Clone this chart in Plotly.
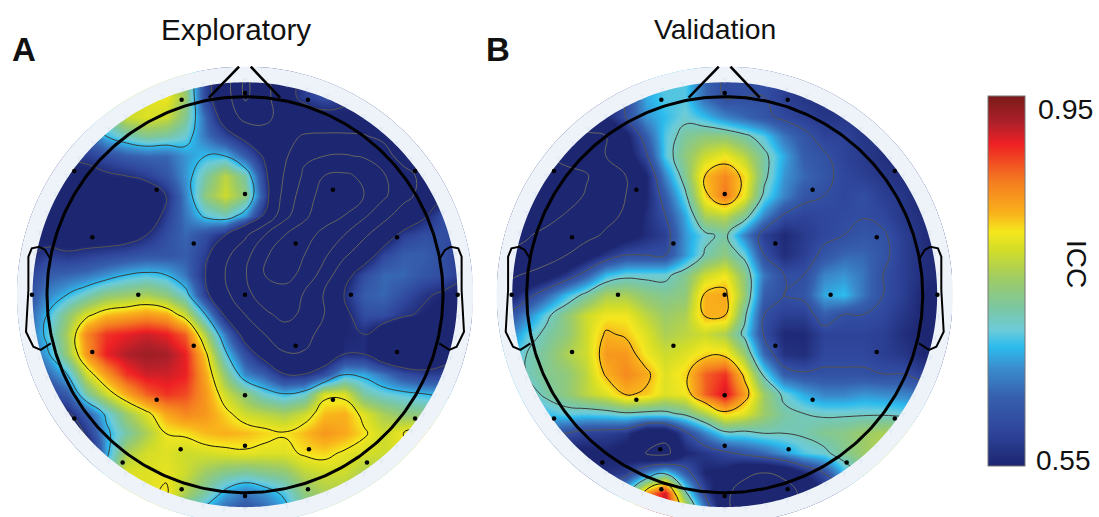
import numpy as np
import plotly.graph_objects as go

grid = [round(-1.1 + 0.1 * k, 1) for k in range(23)]

ica = [
 [.72,.72,.72,.72,.72,.72,.74,.76,.74,.59,.50,.30,.40,.53,.57,.59,.58,.56,.56,.55,.55,.55,.55],
 [.72,.72,.72,.72,.72,.77,.79,.80,.75,.59,.50,.30,.40,.53,.58,.60,.58,.56,.56,.55,.55,.55,.55],
 [.70,.70,.70,.70,.72,.78,.79,.78,.73,.63,.52,.40,.40,.50,.52,.54,.54,.54,.54,.54,.54,.54,.54],
 [.62,.62,.62,.62,.68,.71,.73,.72,.70,.64,.59,.54,.50,.47,.43,.42,.42,.43,.47,.50,.52,.53,.53],
 [.56,.56,.57,.58,.60,.62,.63,.63,.66,.68,.68,.62,.55,.46,.34,.32,.31,.33,.38,.50,.52,.53,.53],
 [.54,.53,.52,.53,.55,.56,.58,.61,.66,.72,.77,.72,.58,.43,.30,.20,.18,.22,.31,.38,.48,.52,.54],
 [.56,.55,.50,.47,.46,.47,.50,.56,.65,.74,.78,.74,.60,.40,.26,.15,.14,.20,.30,.40,.48,.55,.56],
 [.55,.53,.48,.46,.46,.47,.50,.58,.64,.69,.71,.66,.55,.36,.22,.14,.20,.30,.40,.50,.55,.60,.60],
 [.55,.53,.52,.52,.52,.53,.56,.60,.63,.60,.56,.46,.32,.20,.15,.24,.32,.42,.52,.58,.60,.60,.58],
 [.55,.58,.57,.58,.59,.60,.61,.61,.62,.58,.47,.36,.22,.12,.20,.30,.42,.52,.59,.62,.62,.60,.57],
 [.58,.62,.63,.64,.66,.68,.69,.68,.64,.56,.44,.33,.20,.15,.24,.37,.53,.60,.63,.63,.61,.60,.57],
 [.60,.65,.68,.71,.74,.75,.76,.74,.70,.58,.47,.35,.27,.26,.33,.45,.56,.62,.63,.60,.57,.55,.53],
 [.62,.68,.74,.79,.82,.83,.84,.83,.78,.68,.55,.44,.34,.29,.34,.44,.54,.60,.60,.57,.55,.53,.50],
 [.63,.69,.76,.85,.89,.90,.91,.90,.87,.76,.64,.53,.44,.37,.40,.48,.55,.56,.51,.48,.47,.50,.52],
 [.62,.67,.75,.84,.90,.92,.93,.925,.90,.81,.69,.60,.53,.45,.45,.50,.56,.56,.50,.47,.48,.53,.56],
 [.58,.63,.68,.78,.84,.89,.91,.91,.90,.83,.74,.65,.62,.56,.56,.60,.675,.67,.64,.60,.58,.58,.60],
 [.52,.58,.62,.72,.78,.83,.87,.89,.88,.84,.78,.74,.70,.68,.70,.79,.79,.72,.70,.69,.68,.67,.66],
 [.50,.55,.55,.62,.69,.75,.79,.83,.85,.84,.81,.78,.77,.76,.78,.82,.825,.79,.76,.74,.74,.74,.74],
 [.50,.50,.50,.57,.67,.72,.76,.80,.805,.82,.825,.82,.81,.803,.82,.84,.83,.805,.78,.80,.82,.82,.82],
 [.50,.50,.50,.50,.67,.76,.785,.79,.78,.785,.79,.795,.79,.79,.805,.81,.795,.785,.78,.79,.80,.80,.80],
 [.50,.50,.50,.60,.70,.79,.79,.795,.78,.75,.73,.72,.73,.74,.77,.78,.78,.76,.76,.76,.76,.76,.76],
 [.60,.60,.60,.70,.75,.78,.79,.805,.76,.72,.67,.64,.66,.69,.74,.76,.76,.75,.75,.75,.75,.75,.75],
 [.60,.60,.60,.70,.74,.75,.75,.75,.70,.66,.62,.60,.62,.66,.72,.74,.74,.74,.74,.74,.74,.74,.74],
]

icb = [
 [.58,.58,.58,.58,.58,.58,.60,.66,.69,.69,.63,.595,.60,.60,.58,.57,.56,.56,.56,.56,.56,.56,.56],
 [.55,.55,.55,.55,.55,.56,.60,.67,.69,.69,.63,.595,.60,.60,.58,.57,.56,.56,.56,.56,.56,.56,.56],
 [.46,.46,.48,.50,.52,.55,.60,.66,.68,.70,.68,.65,.63,.61,.59,.58,.57,.57,.57,.57,.56,.56,.56],
 [.40,.40,.42,.44,.48,.49,.54,.62,.69,.725,.74,.74,.72,.69,.64,.61,.585,.585,.57,.57,.56,.56,.56],
 [.36,.36,.38,.42,.43,.49,.53,.59,.69,.74,.78,.80,.77,.72,.67,.62,.605,.585,.575,.56,.56,.56,.56],
 [.32,.32,.33,.34,.37,.45,.49,.55,.65,.73,.82,.85,.81,.72,.66,.63,.61,.59,.58,.57,.56,.56,.56],
 [.30,.30,.29,.33,.39,.44,.49,.55,.62,.70,.81,.86,.80,.70,.65,.61,.60,.59,.60,.58,.57,.55,.55],
 [.31,.31,.34,.39,.44,.47,.50,.56,.60,.67,.76,.77,.73,.65,.595,.585,.59,.595,.598,.59,.57,.56,.55],
 [.35,.37,.41,.44,.47,.50,.53,.56,.58,.66,.70,.72,.65,.58,.555,.575,.59,.60,.61,.605,.58,.56,.55],
 [.39,.41,.45,.49,.53,.57,.60,.60,.60,.66,.715,.74,.70,.60,.56,.58,.61,.63,.63,.61,.58,.56,.55],
 [.47,.50,.53,.57,.62,.68,.70,.70,.70,.73,.78,.80,.74,.64,.60,.60,.65,.66,.64,.60,.58,.56,.55],
 [.53,.58,.63,.68,.72,.76,.76,.74,.73,.74,.825,.83,.75,.62,.60,.61,.67,.68,.64,.60,.58,.55,.54],
 [.60,.65,.70,.74,.78,.80,.80,.77,.75,.76,.825,.825,.72,.60,.58,.58,.62,.60,.60,.59,.57,.55,.54],
 [.64,.69,.72,.74,.78,.825,.815,.79,.76,.77,.78,.76,.70,.595,.555,.555,.585,.585,.585,.58,.56,.55,.54],
 [.67,.71,.73,.76,.78,.84,.84,.80,.78,.79,.81,.81,.75,.63,.565,.56,.59,.59,.59,.58,.57,.55,.55],
 [.67,.71,.73,.74,.77,.825,.85,.83,.79,.81,.87,.89,.81,.70,.62,.605,.605,.605,.605,.60,.60,.58,.58],
 [.66,.69,.72,.74,.77,.79,.825,.815,.79,.80,.87,.91,.84,.75,.70,.67,.65,.65,.66,.655,.65,.64,.64],
 [.60,.65,.68,.695,.69,.695,.705,.70,.70,.72,.76,.81,.79,.75,.72,.71,.705,.705,.705,.705,.70,.70,.70],
 [.62,.62,.62,.60,.585,.58,.57,.51,.51,.59,.65,.70,.70,.71,.71,.715,.73,.735,.75,.76,.77,.77,.77],
 [.55,.55,.55,.53,.54,.55,.53,.49,.47,.55,.57,.59,.61,.63,.66,.69,.70,.73,.75,.77,.77,.77,.77],
 [.55,.55,.55,.55,.55,.56,.58,.65,.70,.62,.55,.54,.50,.49,.50,.55,.60,.68,.72,.75,.75,.75,.75],
 [.60,.60,.60,.60,.60,.62,.70,.84,.91,.72,.59,.50,.47,.46,.47,.50,.55,.60,.65,.70,.70,.70,.70],
 [.60,.60,.60,.60,.62,.66,.75,.90,.92,.80,.66,.50,.47,.45,.47,.50,.55,.60,.65,.70,.70,.70,.70],
]

levels_a = [.20, .32, .44, .56, .68, .80]
levels_b = [.27, .38, .49, .60, .71, .82]
level_colors = ["#666660", "#666660", "#666660", "#555550", "#3c3c3c", "#111111"]

sensor_x = [0,-.320,.318,-.862,.859,-.446,.444,0,-.771,-.259,.256,.768,-1.076,-.539,0,.535,1.074,
            -.771,-.259,.256,.768,-.446,0,.444,-.862,.859,-.325,0,.323,-.618,.616,-.320,.318,0]
sensor_y = [1.019,.985,.985,.625,.625,.530,.530,.508,.290,.258,.258,.290,0,0,0,0,0,
            -.290,-.258,-.258,-.290,-.530,-.508,-.530,-.625,-.625,-.781,-.763,-.781,-.848,-.848,-.983,-.983,-1.017]

nose_x = [-.182,-.030,None,.029,.177]
nose_y = [.995,1.152,None,1.152,.995]
ear_x = [-.985,-1.01,-1.039,-1.077,-1.094,-1.094,-1.106,-1.069,-1.032,-.981]
ear_y = [.184,.226,.242,.234,.192,.024,-.187,-.263,-.279,-.246]

titles = ["Exploratory", "Validation"]
panel_letters = ["A", "B"]
colorbar_labels = ["0.95", "0.55"]
colorbar_title = "ICC"

colorscale = [
 [0,"#1d2671"],[.097,"#2f469c"],[.187,"#3660ad"],[.268,"#3a8fcf"],[.322,"#2bbcee"],
 [.367,"#6ccbd9"],[.43,"#7cc7a0"],[.502,"#9ccb68"],[.583,"#d2dd28"],[.633,"#f5e71e"],
 [.682,"#f9b31b"],[.772,"#f47a20"],[.871,"#ee2024"],[.925,"#b0202a"],[1,"#7a1a1a"],
]

W, H = 1099, 517
R = 198.0
CY = 294.7
centers = [245.0, 724.7]
HALF = 1.2
DISC, RING = 1.073, 1.152

theta = np.linspace(0, 2 * np.pi, 361)
def circle(r):
    return r * np.cos(theta), r * np.sin(theta)

def annulus(outer_x, outer_y, inner_r):
    ix, iy = circle(inner_r)
    return list(outer_x) + list(ix[::-1]) , list(outer_y) + list(iy[::-1])

tick_deg = np.arange(0, 360, 5.625)
tick_x = 1.085 * np.cos(np.radians(tick_deg))
tick_y = 1.085 * np.sin(np.radians(tick_deg))

fig = go.Figure()
panels = [(ica, levels_a, "x", "y"), (icb, levels_b, "x2", "y")]
for (z, levels, xa, ya) in panels:
    fig.add_trace(go.Heatmap(x=grid, y=grid[::-1], z=z, coloraxis="coloraxis", zsmooth="best",
                             xaxis=xa, yaxis=ya, hoverinfo="skip"))
    for lev, col in zip(levels, level_colors):
        fig.add_trace(go.Contour(x=grid, y=grid[::-1], z=z, showscale=False, xaxis=xa, yaxis=ya,
                                 contours=dict(coloring="none", start=lev, end=lev, size=1),
                                 line=dict(color=col, width=1, smoothing=1.3), hoverinfo="skip",
                                 autocontour=False))
    # white surround and pale ring hide the square corners of the map
    sq_x = [-HALF, HALF, HALF, -HALF, -HALF]
    sq_y = [-HALF*1.2, -HALF*1.2, HALF, HALF, -HALF*1.2]
    ox, oy = circle(RING)
    mx, my = annulus(sq_x, sq_y, RING)
    fig.add_trace(go.Scatter(x=mx, y=my, mode="none", fill="toself", fillcolor="#ffffff",
                             xaxis=xa, yaxis=ya, hoverinfo="skip"))
    rx, ry = annulus(ox, oy, DISC)
    fig.add_trace(go.Scatter(x=rx, y=ry, mode="none", fill="toself", fillcolor="#edf3f9",
                             xaxis=xa, yaxis=ya, hoverinfo="skip"))
    fig.add_trace(go.Scatter(x=tick_x, y=tick_y, mode="markers",
                             marker=dict(symbol="y-down-open", size=4, color="#d4dff0",
                                         line=dict(color="#d4dff0", width=0.6)),
                             xaxis=xa, yaxis=ya, hoverinfo="skip"))
    hx, hy = circle(1.0)
    fig.add_trace(go.Scatter(x=hx, y=hy, mode="lines", line=dict(color="black", width=3),
                             xaxis=xa, yaxis=ya, hoverinfo="skip"))
    fig.add_trace(go.Scatter(x=nose_x, y=nose_y, mode="lines", line=dict(color="black", width=2.6),
                             xaxis=xa, yaxis=ya, hoverinfo="skip"))
    for sign in (1, -1):
        fig.add_trace(go.Scatter(x=[sign * v for v in ear_x], y=ear_y, mode="lines",
                                 line=dict(color="black", width=2),
                                 xaxis=xa, yaxis=ya, hoverinfo="skip"))
    fig.add_trace(go.Scatter(x=sensor_x, y=sensor_y, mode="markers",
                             marker=dict(color="black", size=4.5),
                             xaxis=xa, yaxis=ya, hoverinfo="skip"))

def dom(c):
    return [(c - HALF * R) / W, (c + HALF * R) / W]

axis_off = dict(visible=False, range=[-HALF, HALF], fixedrange=True)
fig.update_layout(
    width=W, height=H, autosize=False, showlegend=False, margin=dict(l=0, r=0, t=0, b=0),
    paper_bgcolor="white", plot_bgcolor="white",
    font=dict(family="Liberation Sans", color="#111111"),
    xaxis=dict(domain=dom(centers[0]), **axis_off),
    xaxis2=dict(domain=dom(centers[1]), **axis_off),
    yaxis=dict(visible=False, range=[-(H - CY) / R, CY / R], domain=[0, 1], fixedrange=True),
    coloraxis=dict(cmin=.55, cmax=.95, colorscale=colorscale,
                   colorbar=dict(thickness=37, thicknessmode="pixels", len=370, lenmode="pixels",
                                 x=988 / W, xanchor="left", xpad=0, ypad=0,
                                 y=1 - 281 / H, yanchor="middle", showticklabels=False, ticks="",
                                 outlinecolor="#777777", outlinewidth=1)),
)
def note(text, px, py, size, **kw):
    fig.add_annotation(text=text, xref="paper", yref="paper", x=px / W, y=1 - py / H, showarrow=False,
                       font=dict(size=size), xanchor="center", yanchor="middle", **kw)
note(titles[0], 236, 29, 29.7)
note(titles[1], 715, 29, 28.3)
note("<b>" + panel_letters[0] + "</b>", 24, 50, 33)
note("<b>" + panel_letters[1] + "</b>", 498, 50, 33)
note(colorbar_labels[0], 1065, 109, 28.5)
note(colorbar_labels[1], 1063, 460, 28)
note(colorbar_title, 1077, 264, 28, textangle=90)

fig.write_html("out.html", config={"displayModeBar": False},
               post_script="document.body.style.margin='0';document.documentElement.style.overflow='hidden';")
